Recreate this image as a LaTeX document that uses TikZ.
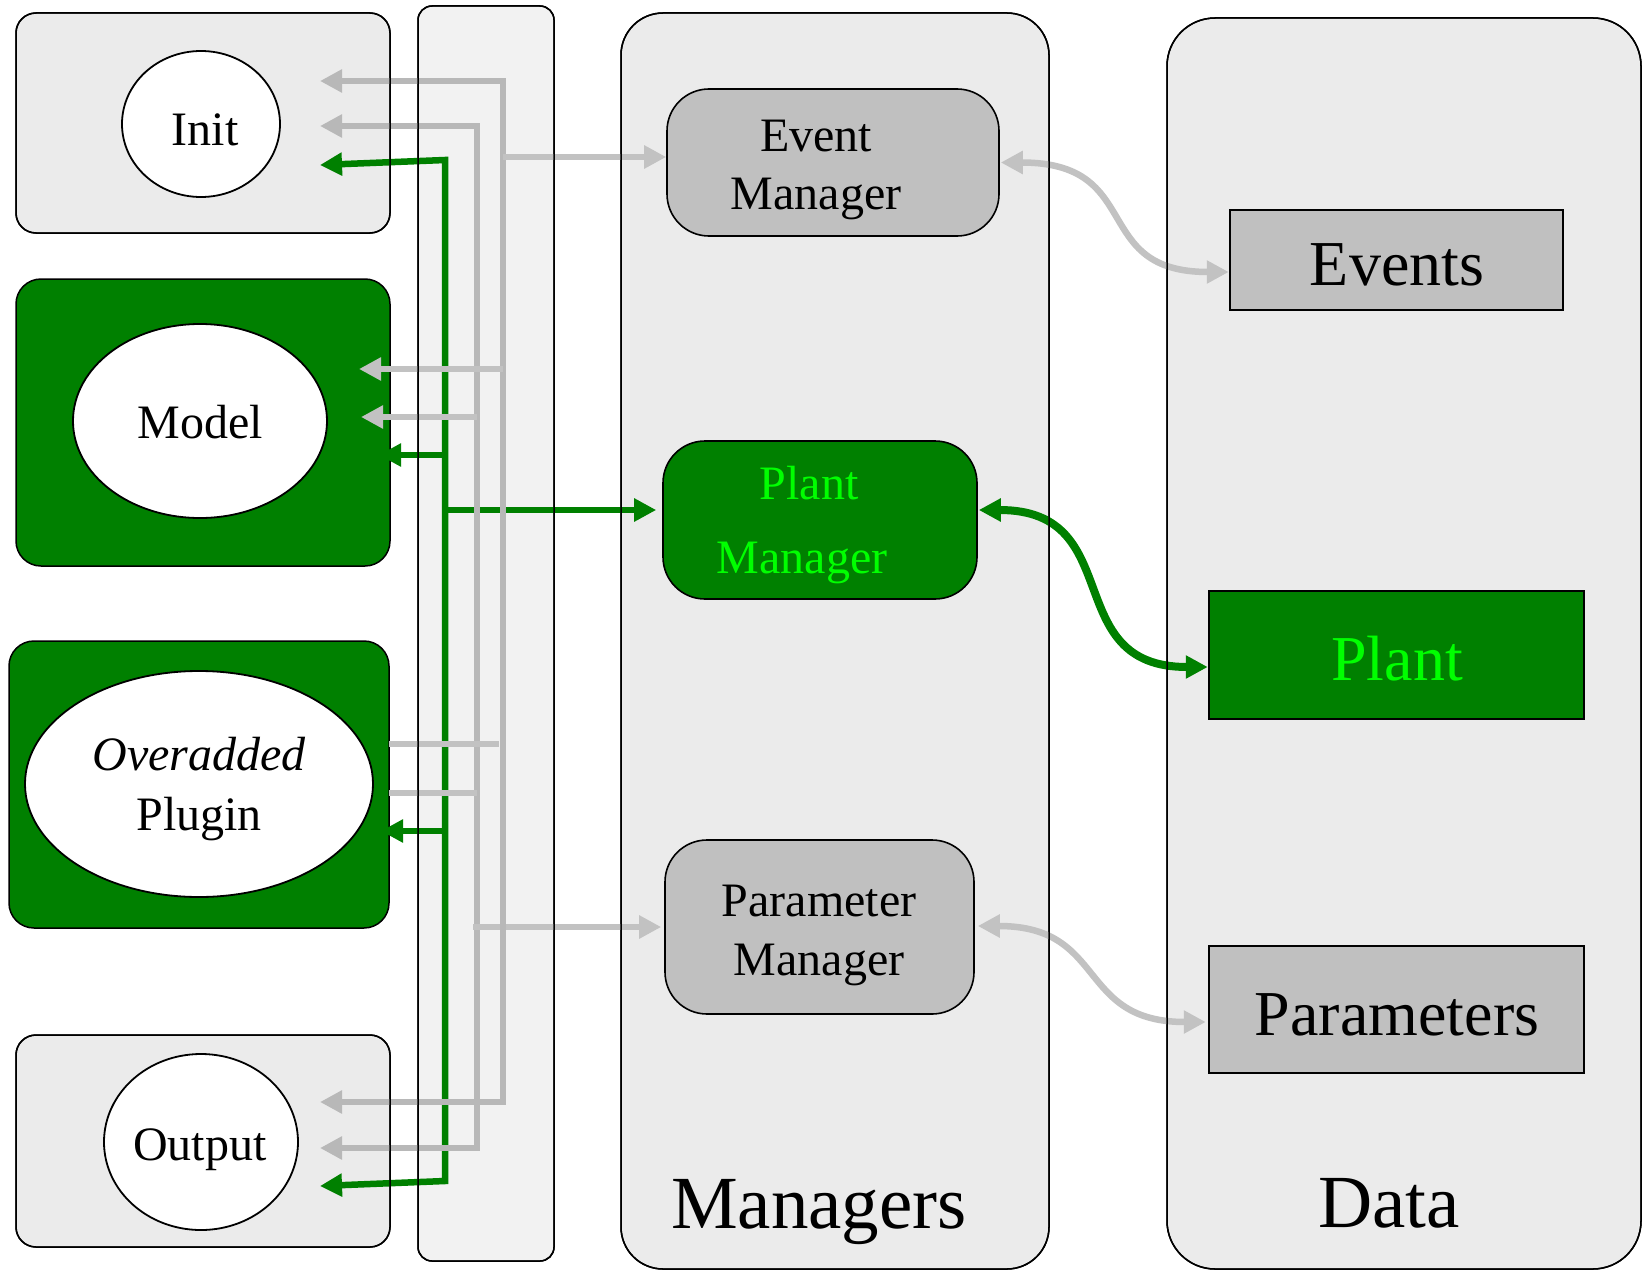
\documentclass[tikz,border=0pt]{standalone}
\usepackage{fontspec}
\setmainfont{Liberation Serif}
\usetikzlibrary{arrows.meta,calc,shapes.geometric}
\definecolor{panelgray}{HTML}{EBEBEB}
\definecolor{busgray}{HTML}{F2F2F2}
\definecolor{boxgray}{HTML}{C0C0C0}
\definecolor{wiregray}{HTML}{C2C2C2}
\definecolor{trunkgray}{HTML}{B8B8B8}
\definecolor{darkgreen}{HTML}{008000}
\definecolor{brightgreen}{HTML}{00FF00}

\begin{document}
\begin{tikzpicture}[x=1pt,y=-1pt,
  >={Triangle[length=22pt,width=22pt]},
  panelbox/.style={draw=black, line width=1.5pt, fill=panelgray, inner sep=0pt, outer sep=0pt},
  greenpanel/.style={panelbox, fill=darkgreen},
  outline/.style={draw=black, line width=1.5pt},
  blob/.style={ellipse, draw=black, line width=1.8pt, fill=white, inner sep=0pt},
  mgrbox/.style={rectangle, rounded corners=42pt, draw=black, line width=1.6pt, fill=boxgray, inner sep=0pt},
  datbox/.style={rectangle, draw=black, line width=2.5pt, fill=boxgray, inner sep=0pt},
  trunk/.style={draw=trunkgray, line width=6.5pt},
  branch/.style={draw=wiregray, line width=6.5pt},
  gwire/.style={draw=darkgreen, line width=6.5pt},
  graycurve/.style={draw=wiregray, line width=6.5pt},
  greencurve/.style={draw=darkgreen, line width=8pt},
  lbl/.style={inner sep=0pt, anchor=base, font=\fontsize{48pt}{58pt}\selectfont},
  biglbl/.style={inner sep=0pt, anchor=base, font=\fontsize{64pt}{76pt}\selectfont},
  titlelbl/.style={inner sep=0pt, anchor=base, font=\fontsize{75pt}{88pt}\selectfont}]

\useasboundingbox (0,0) rectangle (1643,1271);

% ---- plugin panels, bus column, manager and data panels
\node[panelbox, rounded corners=20pt, minimum width=374pt, minimum height=220pt] (initpanel) at (203,123) {};
\node[greenpanel, rounded corners=25pt, minimum width=374pt, minimum height=287pt] (modelpanel) at (203,422.5) {};
\node[greenpanel, rounded corners=25pt, minimum width=380pt, minimum height=287pt] (overpanel) at (199,784.5) {};
\node[panelbox, rounded corners=20pt, minimum width=374pt, minimum height=212pt] (outpanel) at (203,1141) {};
\node[panelbox, fill=busgray, rounded corners=14pt, minimum width=136pt, minimum height=1255pt] (buspanel) at (486,633.5) {};
\node[panelbox, rounded corners=42pt, minimum width=428pt, minimum height=1256pt] (mgrpanel) at (835,641) {};
\node[panelbox, rounded corners=48pt, minimum width=474pt, minimum height=1251pt] (datapanel) at (1404,643.5) {};

% ---- plugin ellipses
\node[blob, minimum width=158pt, minimum height=146pt] (initell) at (201,124) {};
\node[blob, minimum width=254pt, minimum height=194pt] (modelell) at (200,421) {};
\node[blob, minimum width=348pt, minimum height=226pt] (overell) at (199,784) {};
\node[blob, minimum width=194pt, minimum height=176pt] (outell) at (201,1142) {};

% ---- managers
\node[mgrbox, minimum width=332pt, minimum height=147pt] (evmgr) at (833,162.5) {};
\node[mgrbox, fill=darkgreen, minimum width=314pt, minimum height=158pt] (plmgr) at (820,520) {};
\node[mgrbox, minimum width=309pt, minimum height=174pt] (pamgr) at (819.5,927) {};

% ---- data stores
\node[datbox, minimum width=333pt, minimum height=100pt] (events) at (1396.5,260) {};
\node[datbox, fill=darkgreen, minimum width=375pt, minimum height=128pt] (plant) at (1396.5,655) {};
\node[datbox, minimum width=375pt, minimum height=127pt] (params) at (1396.5,1009.5) {};

% ---- junction points on the three bus lines
\coordinate (aInit) at (503,81);   \coordinate (aInitTip) at (320,81);
\coordinate (aEM) at (503,157);
\coordinate (aModel) at (503,369); \coordinate (aModelTip) at (359,369);
\coordinate (aOver) at (503,744);
\coordinate (aOut) at (503,1102);  \coordinate (aOutTip) at (320,1102);

\coordinate (bInit) at (477,126);  \coordinate (bInitTip) at (320,126);
\coordinate (bModel) at (477,417); \coordinate (bModelTip) at (361,417);
\coordinate (bOver) at (477,793);
\coordinate (bParam) at (477,927);
\coordinate (bOut) at (477,1148);  \coordinate (bOutTip) at (320,1148);

\coordinate (gInit) at (445,160);  \coordinate (gInitTip) at (320,165);
\coordinate (gModel) at (445,455); \coordinate (gModelTip) at (379,455);
\coordinate (gPM) at (445,510);
\coordinate (gOver) at (445,831);  \coordinate (gOverTip) at (381,831);
\coordinate (gOut) at (445,1181);  \coordinate (gOutTip) at (320,1186);

% ---- green bus (plant)
\draw[gwire, <->] (gInitTip) -- (gInit) -- (gOut) -- (gOutTip);
\draw[gwire, ->] (gModel) -- (gModelTip);
\draw[gwire, ->] (gOver) -- (gOverTip);
\draw[gwire, ->] (gPM) -- ($(plmgr.west |- gPM)+(-6,0)$);

% ---- gray bus (parameters)
\draw[trunk, <->] (bInitTip) -- (bInit) -- (bOut) -- (bOutTip);
\draw[branch, ->] (bModel) -- (bModelTip);
\draw[branch] (overpanel.east |- bOver) -- (bOver);
\draw[branch, ->] ($(bParam)+(-4,0)$) -- ($(pamgr.west |- bParam)+(-3,0)$);

% ---- gray bus (events)
\draw[trunk, <->] (aInitTip) -- (aInit) -- (aOut) -- (aOutTip);
\draw[branch, ->] (aEM) -- (evmgr.west |- aEM);
\draw[branch, ->] (aModel) -- (aModelTip);
\draw[branch] (overpanel.east |- aOver) -- ($(aOver)+(-4,0)$);

% ---- manager <-> data links
\draw[graycurve, <->] ($(evmgr.east)+(1,0)$) .. controls +(145,0) and +(-140,0) .. ($(events.west)+(0,12)$);
\draw[greencurve, <->] ($(plmgr.east)+(1,-10)$) .. controls +(150,0) and +(-150,0) .. ($(plant.west)+(0,12)$);
\draw[graycurve, <->] ($(pamgr.east)+(3,-1)$) .. controls +(130,0) and +(-130,0) .. ($(params.west)+(-2,12.5)$);

% ---- panel outlines over the wires
\draw[outline, rounded corners=20pt] (initpanel.south west) rectangle (initpanel.north east);
\draw[outline, rounded corners=20pt] (outpanel.south west) rectangle (outpanel.north east);
\draw[outline, rounded corners=14pt] (buspanel.south west) rectangle (buspanel.north east);
\draw[outline, rounded corners=42pt] (mgrpanel.south west) rectangle (mgrpanel.north east);
\draw[outline, rounded corners=48pt] (datapanel.south west) rectangle (datapanel.north east);

% ---- labels
\node[lbl] (initlbl) at (205,146) {Init};
\node[lbl] (modellbl) at (200,438) {Model};
\node[lbl] (overlbl) at (199,770) {\itshape Overadded};
\node[lbl] (pluglbl) at (199,830) {Plugin};
\node[lbl] (outlbl) at (200,1160) {Output};

\node[lbl] (evlbla) at (816,151) {Event};
\node[lbl] (evlblb) at (816,209) {Manager};
\node[lbl, text=brightgreen] (pllbla) at (809,499) {Plant};
\node[lbl, text=brightgreen] (pllblb) at (802,573) {Manager};
\node[lbl] (palbla) at (819,916) {Parameter};
\node[lbl] (palblb) at (819,975) {Manager};

\node[biglbl] (evtxt) at (1397,285) {Events};
\node[biglbl, text=brightgreen] (pltxt) at (1397,680) {Plant};
\node[biglbl] (patxt) at (1397,1035) {Parameters};

\node[titlelbl] (mgrtitle) at (819,1228) {Managers};
\node[titlelbl] (datatitle) at (1389,1227) {Data};
\end{tikzpicture}
\end{document}
